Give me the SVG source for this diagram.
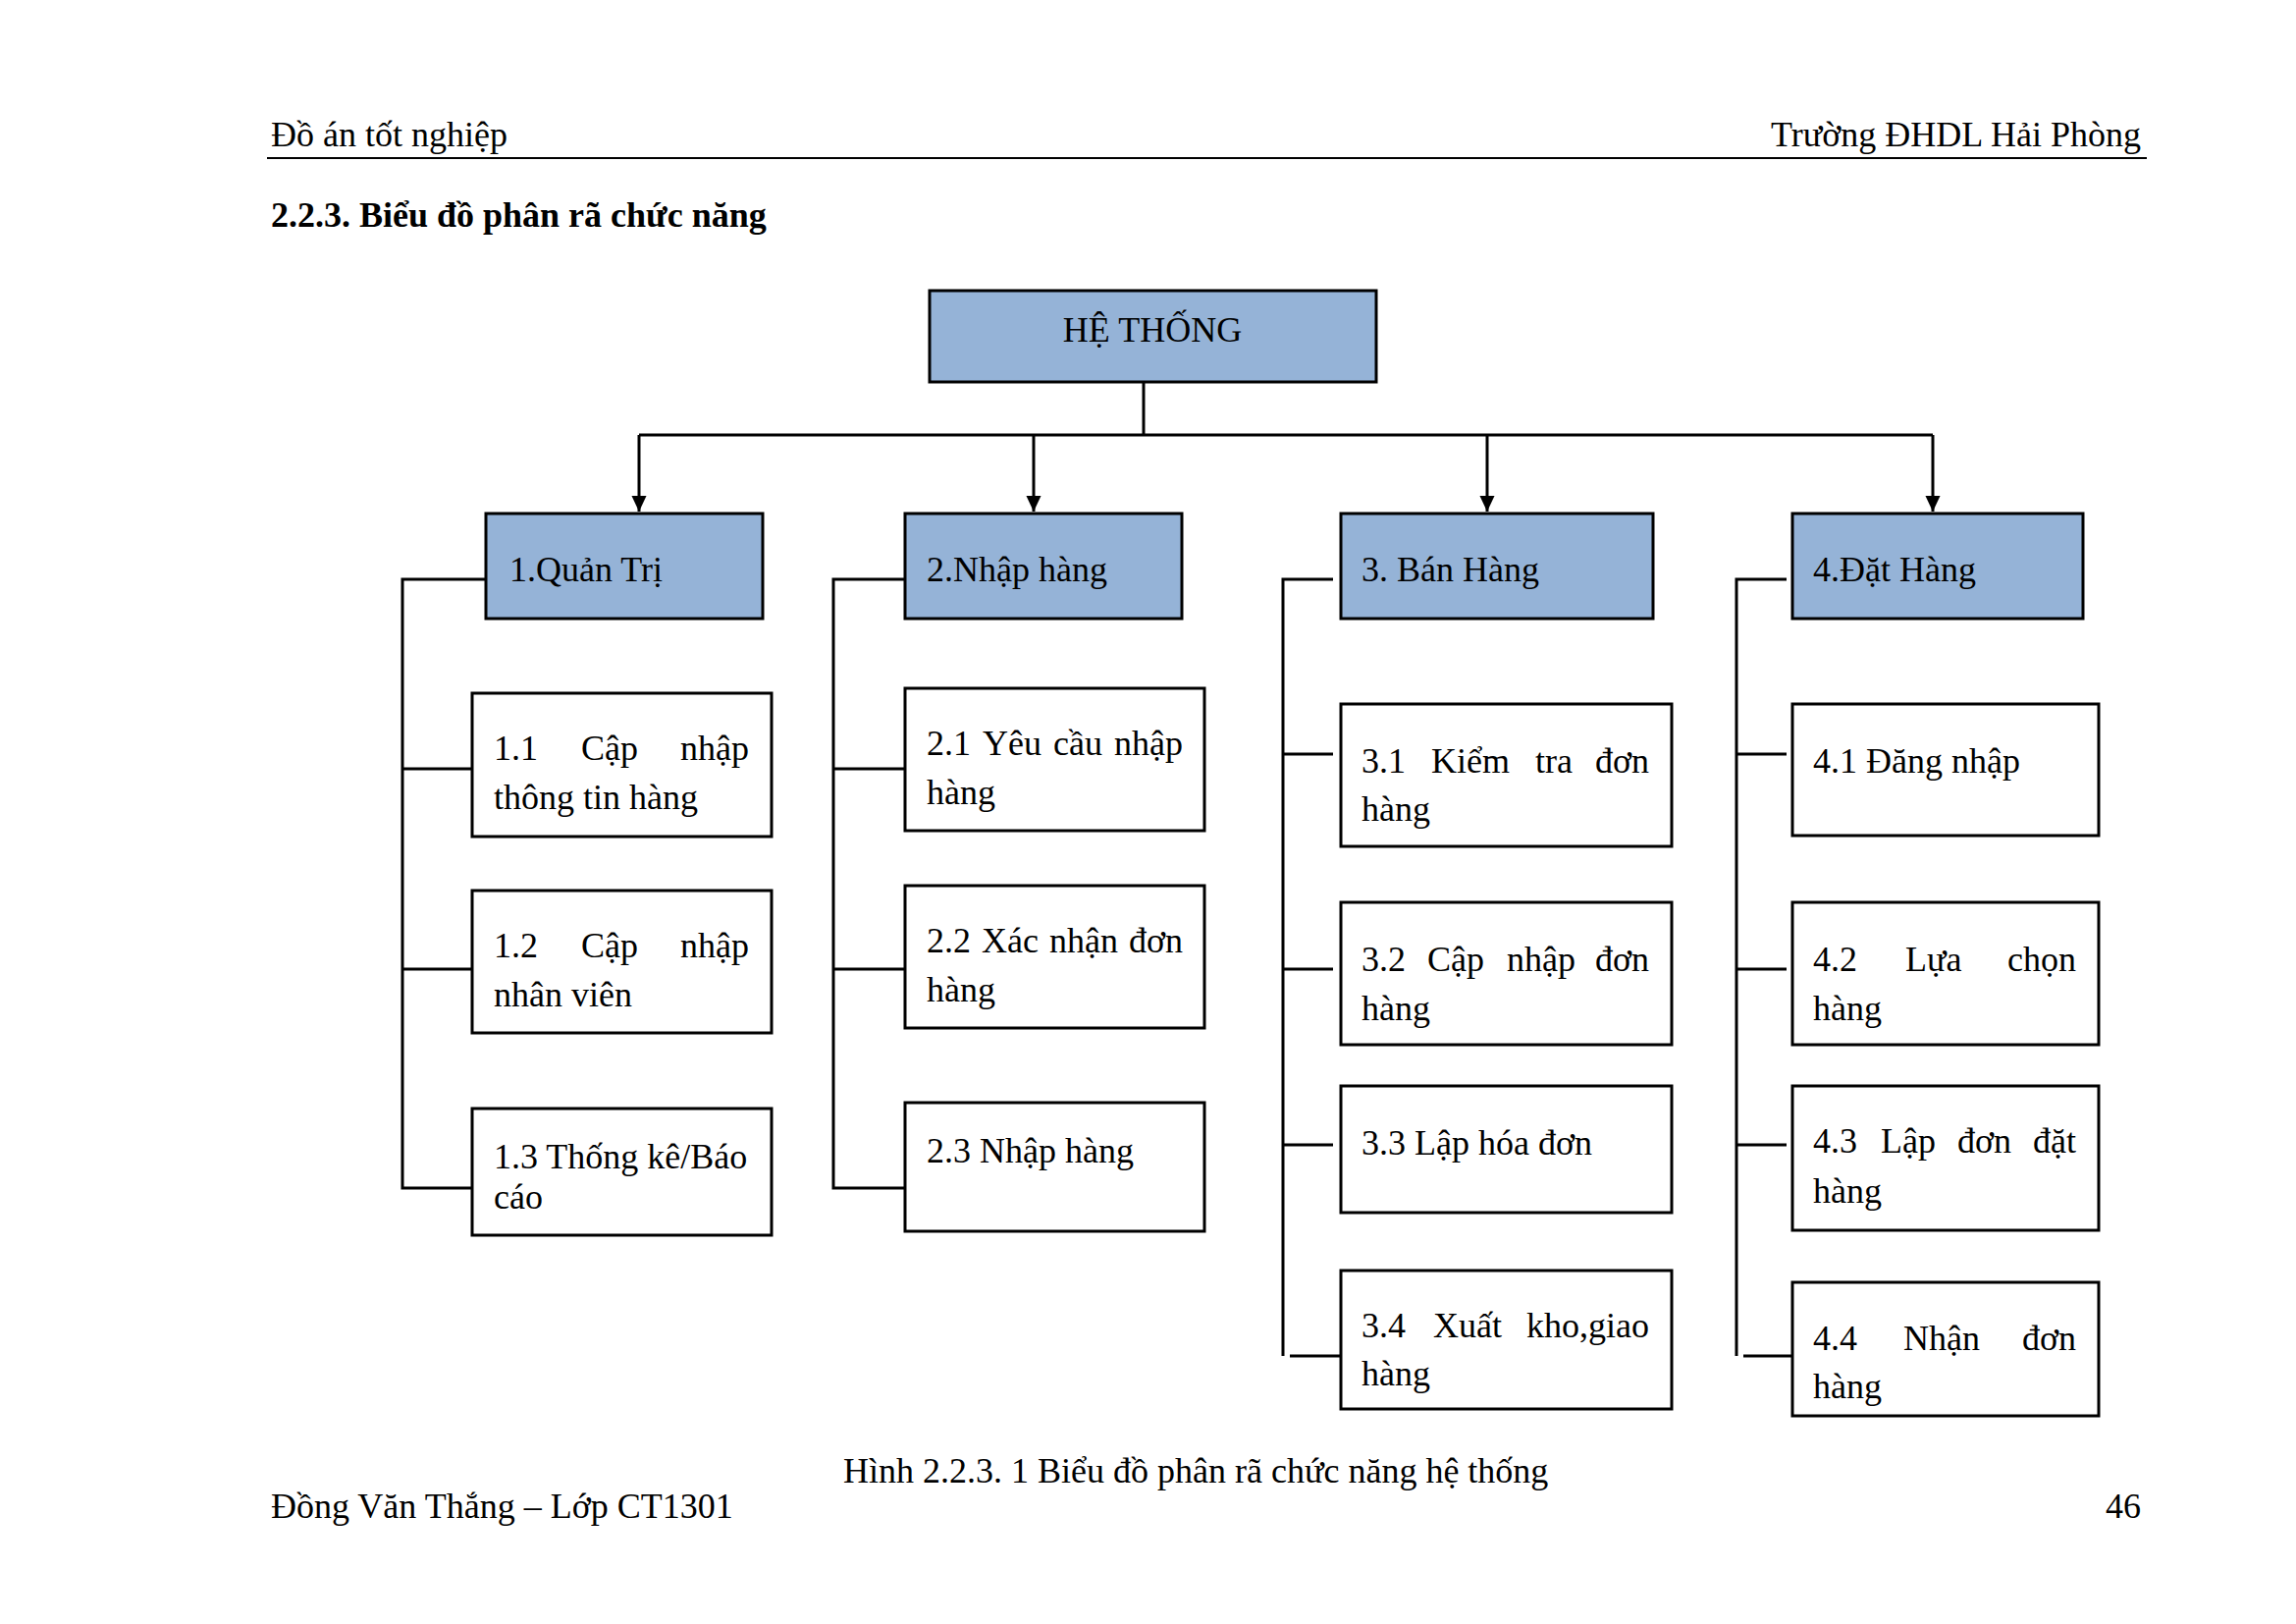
<svg xmlns="http://www.w3.org/2000/svg" width="2339" height="1654" viewBox="0 0 2339 1654">
<style>
text{font-family:"Liberation Serif","Times New Roman",serif;font-size:36px;fill:#000}
.b{font-weight:bold}
.e{text-anchor:end}
.top{fill:#95B3D7;stroke:#000;stroke-width:3}
.box{fill:#fff;stroke:#000;stroke-width:3}
.ln{fill:none;stroke:#000;stroke-width:3}
</style>
<defs>
<marker id="arr" markerUnits="userSpaceOnUse" markerWidth="16" markerHeight="16" refX="16" refY="7.5" orient="auto" viewBox="0 0 16 15">
<path d="M0,0 L16,7.5 L0,15 z" fill="#000"/>
</marker>
</defs>
<rect width="2339" height="1654" fill="#fff"/>
<g id="page">
<text x="276" y="149">Đồ án tốt nghiệp</text>
<text x="2181" y="149" class="e">Trường ĐHDL Hải Phòng</text>
<line x1="272" y1="161" x2="2187" y2="161" stroke="#000" stroke-width="2"/>
<text x="276" y="231" class="b">2.2.3. Biểu đồ phân rã chức năng</text>
<text x="859" y="1510">Hình 2.2.3. 1 Biểu đồ phân rã chức năng hệ thống</text>
<text x="276" y="1546">Đồng Văn Thắng – Lớp CT1301</text>
<text x="2181" y="1546" class="e">46</text>
</g>
<g id="connectors">
<path class="ln" d="M1165,389 V443 M651,443 H1969"/>
<path class="ln" d="M651,443 V521" marker-end="url(#arr)"/>
<path class="ln" d="M1053,443 V521" marker-end="url(#arr)"/>
<path class="ln" d="M1515,443 V521" marker-end="url(#arr)"/>
<path class="ln" d="M1969,443 V521" marker-end="url(#arr)"/>
<path class="ln" d="M495,590 H410 V1210 H481 M410,783 H481 M410,987 H481"/>
<path class="ln" d="M922,590 H849 V1210 H922 M849,783 H922 M849,987 H922"/>
<path class="ln" d="M1358,590 H1307 V1381 M1307,768 H1358 M1307,987 H1358 M1307,1166 H1358 M1314,1381 H1366"/>
<path class="ln" d="M1820,590 H1769 V1381 M1769,768 H1820 M1769,987 H1820 M1769,1166 H1820 M1776,1381 H1826"/>
</g>
<g id="root">
<rect class="top" x="947" y="296" width="455" height="93"/>
<text x="1174" y="348" text-anchor="middle">HỆ THỐNG</text>
</g>
<g id="n1">
<rect class="top" x="495" y="523" width="282" height="107"/>
<text x="519" y="592">1.Quản Trị</text>
</g>
<g id="n2">
<rect class="top" x="922" y="523" width="282" height="107"/>
<text x="944" y="592">2.Nhập hàng</text>
</g>
<g id="n3">
<rect class="top" x="1366" y="523" width="318" height="107"/>
<text x="1387" y="592">3. Bán Hàng</text>
</g>
<g id="n4">
<rect class="top" x="1826" y="523" width="296" height="107"/>
<text x="1847" y="592">4.Đặt Hàng</text>
</g>
<g id="n1_1">
<rect class="box" x="481" y="706" width="305" height="146"/>
<text y="774"><tspan x="503">1.1</tspan><tspan x="592">Cập</tspan><tspan x="763" text-anchor="end">nhập</tspan></text>
<text x="503" y="824">thông tin hàng</text>
</g>
<g id="n1_2">
<rect class="box" x="481" y="907" width="305" height="145"/>
<text y="975"><tspan x="503">1.2</tspan><tspan x="592">Cập</tspan><tspan x="763" text-anchor="end">nhập</tspan></text>
<text x="503" y="1025">nhân viên</text>
</g>
<g id="n1_3">
<rect class="box" x="481" y="1129" width="305" height="129"/>
<text x="503" y="1190">1.3 Thống kê/Báo</text>
<text x="503" y="1231">cáo</text>
</g>
<g id="n2_1">
<rect class="box" x="922" y="701" width="305" height="145"/>
<text y="769"><tspan x="944">2.1</tspan><tspan x="1001">Yêu</tspan><tspan x="1073">cầu</tspan><tspan x="1205" text-anchor="end">nhập</tspan></text>
<text x="944" y="819">hàng</text>
</g>
<g id="n2_2">
<rect class="box" x="922" y="902" width="305" height="145"/>
<text y="970"><tspan x="944">2.2</tspan><tspan x="1000">Xác</tspan><tspan x="1069">nhận</tspan><tspan x="1205" text-anchor="end">đơn</tspan></text>
<text x="944" y="1020">hàng</text>
</g>
<g id="n2_3">
<rect class="box" x="922" y="1123" width="305" height="131"/>
<text x="944" y="1184">2.3 Nhập hàng</text>
</g>
<g id="n3_1">
<rect class="box" x="1366" y="717" width="337" height="145"/>
<text y="787"><tspan x="1387">3.1</tspan><tspan x="1458">Kiểm</tspan><tspan x="1564">tra</tspan><tspan x="1680" text-anchor="end">đơn</tspan></text>
<text x="1387" y="836">hàng</text>
</g>
<g id="n3_2">
<rect class="box" x="1366" y="919" width="337" height="145"/>
<text y="989"><tspan x="1387">3.2</tspan><tspan x="1454">Cập</tspan><tspan x="1535">nhập</tspan><tspan x="1680" text-anchor="end">đơn</tspan></text>
<text x="1387" y="1039">hàng</text>
</g>
<g id="n3_3">
<rect class="box" x="1366" y="1106" width="337" height="129"/>
<text x="1387" y="1176">3.3 Lập hóa đơn</text>
</g>
<g id="n3_4">
<rect class="box" x="1366" y="1294" width="337" height="141"/>
<text y="1362"><tspan x="1387">3.4</tspan><tspan x="1460">Xuất</tspan><tspan x="1680" text-anchor="end">kho,giao</tspan></text>
<text x="1387" y="1411">hàng</text>
</g>
<g id="n4_1">
<rect class="box" x="1826" y="717" width="312" height="134"/>
<text x="1847" y="787">4.1 Đăng nhập</text>
</g>
<g id="n4_2">
<rect class="box" x="1826" y="919" width="312" height="145"/>
<text y="989"><tspan x="1847">4.2</tspan><tspan x="1941">Lựa</tspan><tspan x="2115" text-anchor="end">chọn</tspan></text>
<text x="1847" y="1039">hàng</text>
</g>
<g id="n4_3">
<rect class="box" x="1826" y="1106" width="312" height="147"/>
<text y="1174"><tspan x="1847">4.3</tspan><tspan x="1916">Lập</tspan><tspan x="1994">đơn</tspan><tspan x="2115" text-anchor="end">đặt</tspan></text>
<text x="1847" y="1225">hàng</text>
</g>
<g id="n4_4">
<rect class="box" x="1826" y="1306" width="312" height="136"/>
<text y="1375"><tspan x="1847">4.4</tspan><tspan x="1939">Nhận</tspan><tspan x="2115" text-anchor="end">đơn</tspan></text>
<text x="1847" y="1424">hàng</text>
</g>
</svg>
